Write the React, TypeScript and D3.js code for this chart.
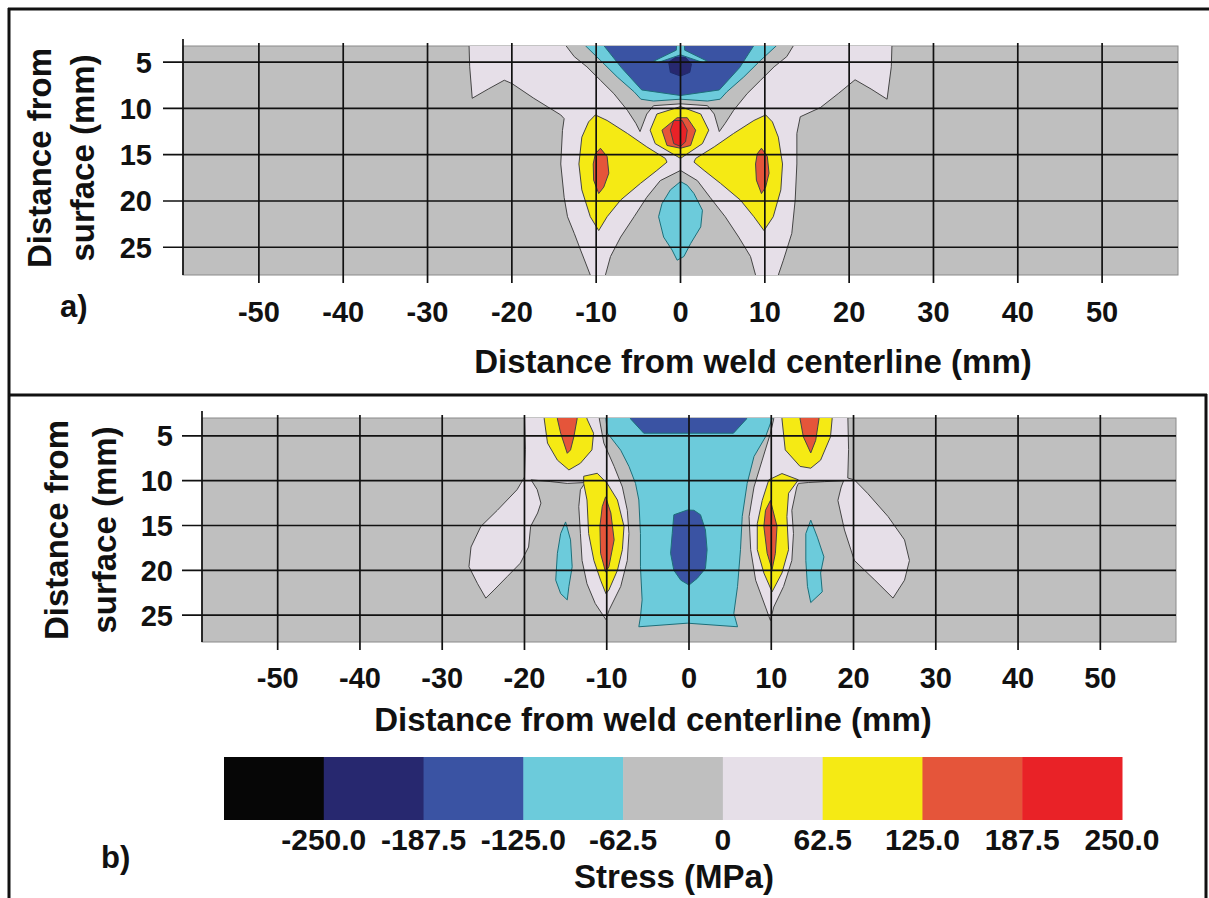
import React from 'react';
import * as d3 from 'd3';

type Pt = [number, number];

// ---------- axes ----------
const X_TICKS = [-50, -40, -30, -20, -10, 0, 10, 20, 30, 40, 50];
const Y_TICKS = [5, 10, 15, 20, 25];

// ---------- stress bands (MPa) ----------
// index: 0 black, 1 navy, 2 blue, 3 cyan, 4 gray, 5 lavender, 6 yellow, 7 orange, 8 red
const BAND_COLORS = ['#060606', '#27286f', '#3a53a3', '#6ccbdb', '#bfbfbf', '#e6dfe8', '#f5ea14', '#e5553a', '#e92227'];
const LEGEND_LABELS = ['-250.0', '-187.5', '-125.0', '-62.5', '0', '62.5', '125.0', '187.5', '250.0'];

// ---------- panel a: contour regions (x mm, depth mm) ----------
const A_LAV: Pt[] = [[-25.1, 2.5], [-25.0, 5.5], [-24.7, 8.9], [-22.8, 7.9], [-20.9, 6.95], [-20.0, 7.3], [-17.4, 8.9], [-15.8, 9.8], [-14.2, 10.7], [-13.8, 11.1], [-14.0, 12.4], [-14.2, 16.0], [-13.8, 19.6], [-13.4, 21.7], [-12.6, 23.5], [-11.85, 25.3], [-10.7, 28.0], [-10.4, 28.8], [11.3, 28.8], [12.2, 26.4], [13.2, 23.5], [13.6, 19.9], [13.8, 16.0], [13.8, 12.7], [14.2, 10.9], [16.6, 9.9], [18.7, 8.4], [20.7, 6.9], [22.6, 7.9], [24.5, 9.0], [25.0, 5.5], [25.1, 2.5]];
const A_GRAY_TOP: Pt[] = [[-13.6, 2.5], [-13.6, 3.2], [-12.6, 4.4], [-11.1, 5.5], [-9.5, 6.95], [-7.9, 8.4], [-6.3, 10.2], [-5.3, 11.6], [-4.8, 12.5], [-4.0, 10.6], [-3.2, 9.7], [0, 9.5], [3.2, 9.7], [4.0, 10.6], [4.6, 12.5], [5.3, 11.6], [6.3, 10.2], [7.9, 8.4], [9.5, 6.95], [11.1, 5.5], [12.6, 4.4], [13.4, 3.2], [13.4, 2.5]];
const A_CYAN_TOP: Pt[] = [[-11.3, 2.5], [-11.3, 3.2], [-9.5, 4.8], [-7.5, 6.6], [-5.5, 8.2], [-4.7, 9.0], [-3.2, 9.2], [0, 9.0], [3.2, 9.2], [4.7, 9.0], [5.5, 8.2], [7.5, 6.6], [9.5, 4.8], [11.4, 3.2], [11.4, 2.5]];
const A_BLUE_TOP: Pt[] = [[-9.1, 2.5], [-9.1, 3.2], [-7.0, 5.6], [-4.6, 8.0], [0, 8.6], [4.6, 8.0], [7.0, 5.6], [8.7, 3.2], [8.7, 2.5]];
const A_CYAN_NOTCH: Pt[] = [[-0.4, 2.5], [0.4, 2.5], [0.5, 3.7], [3.2, 4.9], [2.7, 5.05], [0, 4.2], [-2.7, 5.05], [-3.2, 4.9], [-0.5, 3.7]];
const A_NAVY: Pt[] = [[-1.4, 5.0], [-0.6, 4.5], [0.6, 4.5], [1.3, 5.2], [1.1, 6.1], [0, 6.5], [-1.2, 6.1]];
const A_GRAY_ARCH: Pt[] = [[-9.0, 28.8], [-8.9, 28.0], [-8.3, 26.0], [-7.1, 23.9], [-5.5, 21.7], [-4.0, 19.6], [-2.4, 17.8], [0, 16.7], [2.0, 17.8], [3.5, 19.6], [5.3, 21.7], [6.9, 23.9], [8.3, 26.0], [8.9, 28.0], [9.0, 28.8]];
const A_CYAN_BOT: Pt[] = [[0, 17.9], [-1.2, 18.8], [-2.2, 20.3], [-2.6, 21.7], [-2.0, 23.9], [-1.0, 25.3], [-0.4, 26.4], [0.4, 26.0], [1.2, 24.6], [2.4, 22.8], [2.6, 21.0], [1.6, 19.2], [0.8, 18.3]];
const A_YEL_C: Pt[] = [[0, 9.8], [-2.8, 10.6], [-3.6, 12.35], [-3.0, 13.8], [0, 15.4], [2.6, 13.8], [3.35, 12.35], [2.4, 10.6]];
const A_ORA_C: Pt[] = [[-0.4, 11.0], [-2.2, 12.35], [-1.6, 14.0], [0, 14.3], [1.2, 14.0], [1.8, 12.35], [0.8, 11.0]];
const A_RED_C: Pt[] = [[-0.8, 11.3], [-1.2, 12.35], [-0.8, 13.8], [0, 14.1], [0.6, 13.6], [0.8, 12.35], [0.2, 11.3]];
const A_YEL_L: Pt[] = [[-10.1, 10.7], [-8.7, 11.3], [-6.3, 12.7], [-4.0, 14.15], [-1.8, 15.4], [-1.6, 15.8], [-2.8, 16.7], [-4.75, 18.1], [-7.1, 19.9], [-8.7, 21.7], [-9.7, 23.2], [-10.7, 21.7], [-11.7, 18.8], [-12.05, 16.0], [-11.7, 13.1], [-10.9, 11.45]];
const A_YEL_R: Pt[] = [[10.1, 10.7], [8.7, 11.3], [6.3, 12.7], [4.0, 14.15], [1.8, 15.4], [1.6, 15.8], [2.8, 16.7], [4.75, 18.1], [7.1, 19.9], [8.7, 21.7], [9.9, 23.2], [11.0, 21.7], [11.9, 18.8], [12.1, 16.0], [11.6, 13.1], [10.9, 11.45]];
const A_ORA_L: Pt[] = [[-9.5, 14.3], [-8.7, 15.2], [-8.5, 17.0], [-9.1, 18.5], [-9.7, 19.2], [-10.3, 17.75], [-10.35, 16.0], [-10.1, 14.9]];
const A_ORA_R: Pt[] = [[9.6, 14.3], [10.3, 15.2], [10.5, 17.0], [10.1, 18.5], [9.6, 19.2], [9.0, 17.75], [8.9, 16.0], [9.1, 14.9]];

// ---------- panel b: contour regions ----------
const B_LAV_L: Pt[] = [[-20.0, 2.5], [-19.9, 6.5], [-20.0, 9.6], [-20.9, 11.0], [-23.3, 13.3], [-25.3, 15.1], [-26.5, 17.4], [-26.75, 19.6], [-25.7, 21.5], [-24.7, 23.1], [-23.7, 22.2], [-22.1, 20.7], [-20.5, 19.2], [-19.5, 17.4], [-19.25, 15.1], [-18.4, 13.6], [-18.0, 12.5], [-18.45, 11.0], [-19.2, 9.9], [-16.8, 10.1], [-14.8, 10.3], [-12.6, 10.2], [-13.2, 11.0], [-13.4, 12.9], [-13.2, 15.9], [-13.0, 18.9], [-12.4, 21.5], [-11.4, 23.7], [-10.1, 25.5], [-9.7, 24.4], [-8.3, 21.8], [-7.5, 18.9], [-7.3, 15.9], [-7.5, 13.3], [-8.1, 10.7], [-9.1, 8.4], [-10.35, 5.8], [-10.9, 3.1], [-10.9, 2.5]];
const B_LAV_R: Pt[] = [[19.3, 2.5], [19.4, 6.5], [19.3, 9.7], [20.1, 9.9], [21.7, 11.4], [24.2, 14.0], [26.2, 16.6], [26.8, 18.9], [26.2, 21.1], [24.8, 23.1], [22.6, 21.1], [20.1, 18.9], [18.9, 15.5], [18.1, 12.2], [18.5, 10.7], [18.8, 10.0], [16.5, 10.1], [14.5, 10.2], [13.3, 10.3], [13.1, 10.7], [12.5, 13.3], [12.7, 15.9], [12.5, 18.9], [11.5, 21.8], [10.3, 24.1], [9.9, 25.6], [9.3, 24.1], [8.1, 21.1], [7.5, 17.7], [7.3, 14.0], [7.9, 10.7], [8.9, 7.7], [9.9, 4.7], [10.3, 3.1], [10.3, 2.5]];
const B_CYAN: Pt[] = [[-10.1, 2.5], [-10.1, 3.1], [-9.9, 4.7], [-8.3, 6.6], [-7.3, 8.4], [-6.5, 10.3], [-6.1, 12.15], [-5.9, 15.9], [-5.9, 19.6], [-5.7, 23.3], [-5.9, 25.2], [-6.1, 26.3], [-0.2, 25.9], [5.9, 26.3], [5.45, 24.8], [5.9, 21.8], [6.26, 17.7], [6.47, 14.0], [7.07, 10.3], [7.9, 7.3], [9.3, 5.1], [10.1, 3.1], [10.1, 2.5]];
const B_BLUE_TOP: Pt[] = [[-7.2, 2.5], [-7.1, 3.1], [-5.5, 4.7], [5.4, 4.7], [7.0, 3.1], [7.0, 2.5]];
const B_BLUE_MID: Pt[] = [[-0.2, 13.27], [-1.84, 13.8], [-2.04, 15.9], [-2.24, 18.1], [-1.84, 20.0], [-1.0, 21.1], [0, 21.65], [1.0, 20.9], [2.0, 19.8], [2.2, 17.7], [2.0, 15.5], [1.4, 13.8], [0.6, 13.3]];
const B_YEL_TL: Pt[] = [[-17.6, 2.5], [-17.6, 3.1], [-17.2, 5.8], [-16.0, 7.7], [-14.6, 8.8], [-13.2, 8.05], [-11.8, 6.56], [-11.6, 4.7], [-12.4, 3.1], [-12.4, 2.5]];
const B_ORA_TL: Pt[] = [[-16.0, 2.5], [-16.0, 3.1], [-15.6, 4.7], [-14.8, 6.94], [-14.4, 6.56], [-14.0, 5.1], [-13.6, 3.1], [-13.6, 2.5]];
const B_YEL_TR: Pt[] = [[11.3, 2.5], [11.3, 3.1], [11.7, 6.56], [13.5, 8.4], [14.8, 8.6], [16.0, 7.7], [17.2, 5.1], [17.4, 3.1], [17.4, 2.5]];
const B_ORA_TR: Pt[] = [[13.5, 2.5], [13.5, 3.1], [13.9, 5.1], [14.8, 6.9], [15.4, 5.5], [15.8, 3.1], [15.8, 2.5]];
const B_YEL_ML: Pt[] = [[-12.8, 9.5], [-11.15, 9.17], [-9.94, 10.3], [-8.7, 12.15], [-7.9, 15.1], [-8.1, 17.7], [-8.7, 20.0], [-9.74, 22.2], [-10.1, 22.6], [-10.75, 21.1], [-11.56, 18.9], [-12.2, 15.9], [-12.4, 12.15], [-12.8, 10.3]];
const B_ORA_ML: Pt[] = [[-10.14, 11.8], [-9.5, 13.6], [-9.1, 16.6], [-9.74, 19.6], [-10.14, 20.2], [-10.75, 18.1], [-10.83, 15.1], [-10.55, 12.9]];
const B_YEL_MR: Pt[] = [[11.3, 9.2], [13.3, 9.9], [12.1, 11.4], [11.9, 14.0], [12.1, 17.7], [11.3, 20.3], [10.1, 22.4], [9.1, 20.3], [8.3, 17.7], [8.3, 14.8], [8.9, 12.2], [9.7, 9.9]];
const B_ORA_MR: Pt[] = [[9.9, 12.2], [10.7, 15.1], [10.5, 18.1], [10.1, 19.9], [9.5, 18.1], [9.1, 15.1], [9.3, 13.3]];
const B_CYAN_SL: Pt[] = [[-15.0, 14.6], [-14.4, 16.6], [-14.2, 19.6], [-14.6, 21.8], [-14.8, 23.3], [-15.6, 22.6], [-16.2, 21.1], [-16.0, 18.1], [-15.6, 15.9]];
const B_CYAN_SR: Pt[] = [[14.8, 14.4], [15.6, 16.3], [16.4, 18.5], [16.0, 20.3], [16.2, 22.4], [14.8, 23.6], [14.4, 21.8], [14.2, 18.9], [14.2, 15.9]];

type Region = { band: number; pts: Pt[] };

const PANEL_A_REGIONS: Region[] = [
  { band: 5, pts: A_LAV },
  { band: 4, pts: A_GRAY_TOP },
  { band: 3, pts: A_CYAN_TOP },
  { band: 2, pts: A_BLUE_TOP },
  { band: 3, pts: A_CYAN_NOTCH },
  { band: 1, pts: A_NAVY },
  { band: 4, pts: A_GRAY_ARCH },
  { band: 3, pts: A_CYAN_BOT },
  { band: 6, pts: A_YEL_C },
  { band: 7, pts: A_ORA_C },
  { band: 8, pts: A_RED_C },
  { band: 6, pts: A_YEL_L },
  { band: 6, pts: A_YEL_R },
  { band: 7, pts: A_ORA_L },
  { band: 7, pts: A_ORA_R },
];

const PANEL_B_REGIONS: Region[] = [
  { band: 5, pts: B_LAV_L },
  { band: 5, pts: B_LAV_R },
  { band: 3, pts: B_CYAN },
  { band: 2, pts: B_BLUE_TOP },
  { band: 2, pts: B_BLUE_MID },
  { band: 6, pts: B_YEL_TL },
  { band: 7, pts: B_ORA_TL },
  { band: 6, pts: B_YEL_TR },
  { band: 7, pts: B_ORA_TR },
  { band: 6, pts: B_YEL_ML },
  { band: 7, pts: B_ORA_ML },
  { band: 6, pts: B_YEL_MR },
  { band: 7, pts: B_ORA_MR },
  { band: 3, pts: B_CYAN_SL },
  { band: 3, pts: B_CYAN_SR },
];

const FONT = "'Liberation Sans', Arial, Helvetica, sans-serif";

type Cfg = {
  id: string;
  xd: [number, number]; xr: [number, number];
  yd: [number, number]; yr: [number, number];
  regions: Region[];
  tickLabelY: number; yLabelX: number;
  titleX: number; titleY: number;
  yTitle1X: number; yTitle2X: number; yTitleY: number;
};

function strokeFor(band: number) {
  if (band === 1) return '#1e2a6a';
  if (band === 3 || band === 2) return '#1d6f7a';
  return '#454545';
}

function Panel({ cfg }: { cfg: Cfg }) {
  const xs = d3.scaleLinear().domain(cfg.xd).range(cfg.xr);
  const ys = d3.scaleLinear().domain(cfg.yd).range(cfg.yr);
  const line = d3.line<Pt>().x(d => xs(d[0])).y(d => ys(d[1])).curve(d3.curveLinearClosed);
  const [x0, x1] = cfg.xr;
  const [y0, y1] = cfg.yr;
  return (
    <g>
      <defs>
        <clipPath id={cfg.id}>
          <rect x={x0} y={y0} width={x1 - x0} height={y1 - y0} />
        </clipPath>
      </defs>
      <rect x={x0} y={y0} width={x1 - x0} height={y1 - y0} fill={BAND_COLORS[4]} stroke="#8a8a8a" strokeWidth={1} />
      <g clipPath={`url(#${cfg.id})`}>
        {cfg.regions.map((r, i) => (
          <path key={i} d={line(r.pts) || ''} fill={BAND_COLORS[r.band]} stroke={strokeFor(r.band)}
            strokeWidth={1} strokeLinejoin="round" />
        ))}
      </g>
      {/* grid */}
      {Y_TICKS.map(t => (
        <line key={'h' + t} x1={x0 - 20} x2={x1} y1={ys(t)} y2={ys(t)} stroke="#111" strokeWidth={1.7} />
      ))}
      {X_TICKS.map(t => (
        <line key={'v' + t} x1={xs(t)} x2={xs(t)} y1={y0 - 3} y2={y1 + 8} stroke="#111" strokeWidth={1.7} />
      ))}
      <line x1={x0} x2={x0} y1={y0 - 7} y2={y1} stroke="#111" strokeWidth={1.7} />
      {/* tick labels */}
      {X_TICKS.map(t => (
        <text key={'xl' + t} x={xs(t)} y={cfg.tickLabelY} textAnchor="middle" fontFamily={FONT}
          fontWeight="bold" fontSize={29} fill="#111">{t}</text>
      ))}
      {Y_TICKS.map(t => (
        <text key={'yl' + t} x={cfg.yLabelX} y={ys(t)} dy="0.36em" textAnchor="end" fontFamily={FONT}
          fontWeight="bold" fontSize={29} fill="#111">{t}</text>
      ))}
      <text x={cfg.titleX} y={cfg.titleY} textAnchor="middle" fontFamily={FONT} fontWeight="bold"
        fontSize={33} fill="#111">Distance from weld centerline (mm)</text>
      <text transform={`translate(${cfg.yTitle1X},${cfg.yTitleY}) rotate(-90)`} textAnchor="middle"
        fontFamily={FONT} fontWeight="bold" fontSize={33} fill="#111">Distance from</text>
      <text transform={`translate(${cfg.yTitle2X},${cfg.yTitleY}) rotate(-90)`} textAnchor="middle"
        fontFamily={FONT} fontWeight="bold" fontSize={33} fill="#111">surface (mm)</text>
    </g>
  );
}

const PANEL_A: Cfg = {
  id: 'clipA', xd: [-59, 59], xr: [183, 1178], yd: [3.25, 28], yr: [46, 275],
  regions: PANEL_A_REGIONS, tickLabelY: 322, yLabelX: 152, titleX: 753, titleY: 373,
  yTitle1X: 51, yTitle2X: 94, yTitleY: 158,
};
const PANEL_B: Cfg = {
  id: 'clipB', xd: [-59.2, 59.2], xr: [202, 1176], yd: [3.0, 28], yr: [418, 642],
  regions: PANEL_B_REGIONS, tickLabelY: 688, yLabelX: 173, titleX: 653, titleY: 731,
  yTitle1X: 68, yTitle2X: 116, yTitleY: 530,
};

function Legend() {
  const lx = d3.scaleLinear().domain([0, BAND_COLORS.length]).range([224, 1122]);
  return (
    <g>
      {BAND_COLORS.map((c, i) => (
        <rect key={i} x={lx(i)} y={757} width={lx(i + 1) - lx(i) + 0.5} height={63} fill={c} />
      ))}
      {LEGEND_LABELS.map((l, i) => (
        <text key={l} x={lx(i + 1)} y={850} textAnchor="middle" fontFamily={FONT} fontWeight="bold"
          fontSize={30} fill="#111">{l}</text>
      ))}
      <text x={674} y={888} textAnchor="middle" fontFamily={FONT} fontWeight="bold" fontSize={33}
        fill="#111">Stress (MPa)</text>
    </g>
  );
}

export default function App() {
  return (
    <svg width={1209} height={898} style={{ position: 'absolute', left: 0, top: 0, background: '#fff' }}>
      <rect x={0} y={0} width={1209} height={898} fill="#fff" />
      {/* frame */}
      <line x1={8} x2={1209} y1={9} y2={9} stroke="#111" strokeWidth={3} />
      <line x1={9} x2={9} y1={8} y2={898} stroke="#111" strokeWidth={3} />
      <line x1={8} x2={1207} y1={395} y2={395} stroke="#111" strokeWidth={3} />
      <line x1={1206} x2={1206} y1={394} y2={898} stroke="#111" strokeWidth={3} />
      <Panel cfg={PANEL_A} />
      <Panel cfg={PANEL_B} />
      <Legend />
      <text x={60} y={317} fontFamily={FONT} fontWeight="bold" fontSize={31} fill="#111">a)</text>
      <text x={101} y={868} fontFamily={FONT} fontWeight="bold" fontSize={31} fill="#111">b)</text>
    </svg>
  );
}
